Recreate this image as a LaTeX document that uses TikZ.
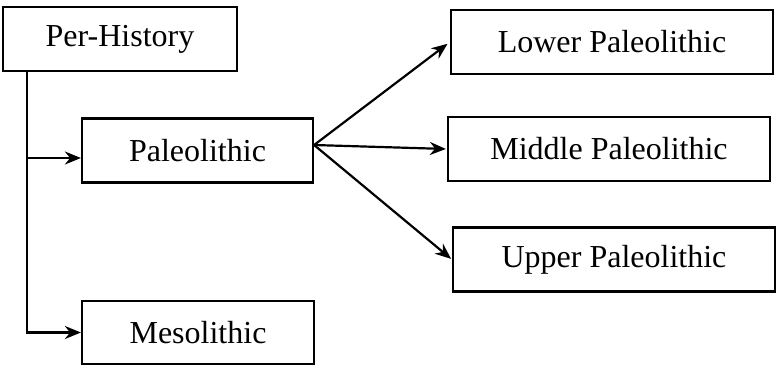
\documentclass[tikz,border=0pt]{standalone}
\usepackage{fontspec}
\setmainfont{Liberation Serif}
\usetikzlibrary{arrows.meta,positioning}

\begin{document}
\begin{tikzpicture}[
      x=0.5pt, y=-0.5pt,
      box/.style={draw, line width=1.1pt, align=center, minimum height=32pt, inner sep=0pt, font=\fontsize{16}{19}\selectfont},
      arr/.style={-{Stealth[length=8pt, width=6.5pt, inset=2.6pt]}, line width=1.1pt}
    ]
      \useasboundingbox (0,0) rectangle (777,366);
      \node[box, minimum width=117pt] (prehist) at (120,39) {Per-History};
      \node[box, minimum width=115.5pt] (paleo) at (197.5,150.5) {Paleolithic};
      \node[box, minimum width=116pt, minimum height=31.5pt] (meso) at (198,332.5) {Mesolithic};
      \node[box, minimum width=161pt] (lower) at (612,42) {Lower Paleolithic};
      \node[box, minimum width=161pt] (middle) at (609,149) {Middle Paleolithic};
      \node[box, minimum width=161pt] (upper) at (614,259.5) {Upper Paleolithic};
      \coordinate (trunk) at (27,0);
      \coordinate (paleoin) at ([yshift=-3.75pt]paleo.west);
      \coordinate (paleoout) at ([yshift=2.75pt]paleo.east);
      \draw[arr] (prehist.south -| trunk) |- (meso.west);
      \draw[arr] (trunk |- paleoin) -- (paleoin);
      \draw[arr, shorten >=1.5pt] (paleoout) -- (lower.west);
      \draw[arr, shorten >=0.5pt] (paleoout) -- (middle.west);
      \draw[arr, shorten >=0.5pt] (paleoout) -- (upper.west);
    \end{tikzpicture}
\end{document}
